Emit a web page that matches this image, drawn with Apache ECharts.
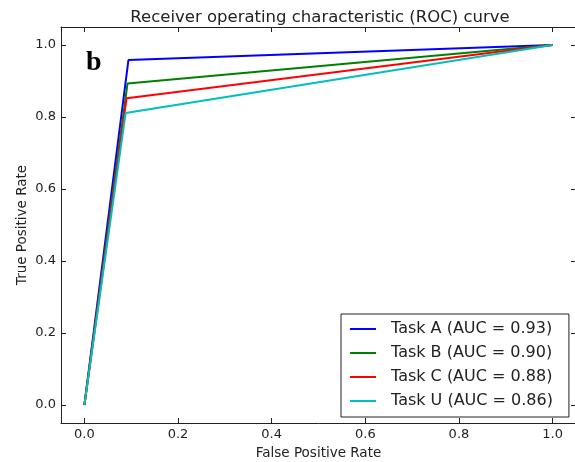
<!DOCTYPE html>
<html><head><meta charset="utf-8">
<script src="https://cdn.jsdelivr.net/npm/echarts@6/dist/echarts.min.js"></script>
<style>html,body{margin:0;padding:0;background:#fff}#c{width:575px;height:462px}</style>
</head><body><div id="c"></div>
<script>
const seriesNames = ['Task A (AUC = 0.93)', 'Task B (AUC = 0.90)', 'Task C (AUC = 0.88)', 'Task U (AUC = 0.86)'];
const fpr = [
  [0.0, 0.094, 1.0],
  [0.0, 0.092, 1.0],
  [0.0, 0.090, 1.0],
  [0.0, 0.088, 1.0]
];
const tpr = [
  [0.0, 0.958, 1.0],
  [0.0, 0.893, 1.0],
  [0.0, 0.852, 1.0],
  [0.0, 0.811, 1.0]
];
const colors = ['#0000ff', '#008000', '#ff0000', '#00bfbf'];
const titleText = 'Receiver operating characteristic (ROC) curve';
const xName = 'False Positive Rate';
const yName = 'True Positive Rate';
const panelLabel = 'b';

const font = 'DejaVu Sans';
const chart = echarts.init(document.getElementById('c'), null, {renderer: 'canvas'});
const fmt = v => {
  const r = Math.round(v * 10) / 10;
  return Math.abs(v - r) < 1e-6 && Math.abs(Math.round(v*5) - v*5) < 1e-6 ? r.toFixed(1) : '';
};
const axisCommon = {
  type: 'value', min: -0.05, max: 1.05, splitNumber: 5,
  splitLine: {show: false},
  axisLine: {show: true, onZero: false, lineStyle: {color: '#222', width: 1}},
  axisTick: {show: true, inside: true, length: 5, lineStyle: {color: '#222'}}
};
chart.setOption({
  animation: false,
  backgroundColor: '#fff',
  title: {text: titleText, left: 315, textAlign: 'center', top: 4,
    textStyle: {fontFamily: font, fontSize: 16.5, fontWeight: 'normal', color: '#222'}},
  grid: {left: 61, top: 27, width: 515, height: 396, containLabel: false, outerBoundsMode: 'none'},
  legend: {
    orient: 'vertical', left: 341, top: 314,
    data: seriesNames,
    padding: [7, 16, 8, 9],
    borderColor: '#222', borderWidth: 1, backgroundColor: '#fff',
    icon: 'rect', itemWidth: 26, itemHeight: 2, itemGap: 8,
    textStyle: {fontFamily: font, fontSize: 16, color: '#222', padding: [0, 0, 0, 10]}
  },
  xAxis: [
    Object.assign({}, axisCommon, {position: 'bottom', name: xName, nameLocation: 'middle', nameGap: 23,
      nameTextStyle: {fontFamily: font, fontSize: 13.5, color: '#222'},
      axisLabel: {formatter: fmt, fontFamily: font, fontSize: 13, color: '#222', margin: 5, showMinLabel: false, showMaxLabel: false}}),
    Object.assign({}, axisCommon, {position: 'top', axisLabel: {show: false}})
  ],
  yAxis: [
    Object.assign({}, axisCommon, {position: 'left', name: yName, nameLocation: 'middle', nameGap: 32, nameMoveOverlap: false,
      nameTextStyle: {fontFamily: font, fontSize: 13.5, color: '#222'},
      axisLabel: {formatter: fmt, fontFamily: font, fontSize: 13, color: '#222', margin: 5, showMinLabel: false, showMaxLabel: false}}),
    Object.assign({}, axisCommon, {position: 'right', axisLabel: {show: false}})
  ],
  graphic: [{type: 'text', left: 86, top: 49,
    style: {text: panelLabel, fontFamily: 'Liberation Serif', fontWeight: 'bold', fontSize: 28, fill: '#000'}}],
  series: seriesNames.map((n, i) => ({
    name: n, type: 'line', symbol: 'none',
    data: fpr[i].map((x, j) => [x, tpr[i][j]]),
    lineStyle: {color: colors[i], width: 2},
    itemStyle: {color: colors[i]}
  }))
});
</script></body></html>
